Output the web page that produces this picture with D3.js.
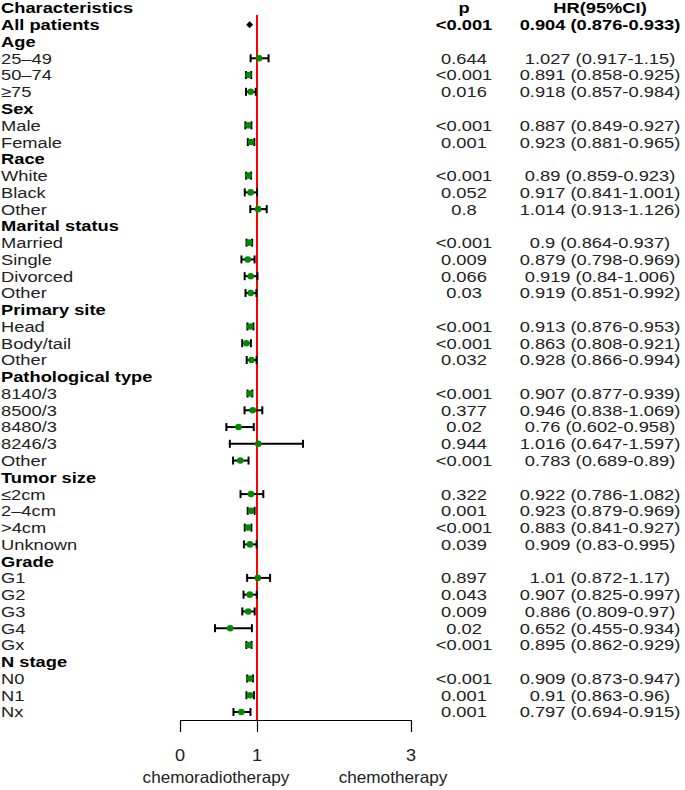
<!DOCTYPE html>
<html><head><meta charset="utf-8">
<script src="https://cdn.jsdelivr.net/npm/d3@7"></script>
<style>body{margin:0;background:#fff}svg{display:block}text{font-family:Arial,"Liberation Sans",sans-serif}</style>
</head><body><svg id="c" width="685" height="790"></svg>
<script>
const labels = ["Characteristics","All patients","Age","25–49","50–74","≥75","Sex","Male","Female","Race","White","Black","Other","Marital status","Married","Single","Divorced","Other","Primary site","Head","Body/tail","Other","Pathological type","8140/3","8500/3","8480/3","8246/3","Other","Tumor size","≤2cm","2–4cm",">4cm","Unknown","Grade","G1","G2","G3","G4","Gx","N stage","N0","N1","Nx"];
const boldRows = [0,1,2,6,9,13,18,22,28,33,39];
const hr    = [null,0.904,null,1.027,0.891,0.918,null,0.887,0.923,null,0.89,0.917,1.014,null,0.9,0.879,0.919,0.919,null,0.913,0.863,0.928,null,0.907,0.946,0.76,1.016,0.783,null,0.922,0.923,0.883,0.909,null,1.01,0.907,0.886,0.652,0.895,null,0.909,0.91,0.797];
const lower = [null,0.876,null,0.917,0.858,0.857,null,0.849,0.881,null,0.859,0.841,0.913,null,0.864,0.798,0.84,0.851,null,0.876,0.808,0.866,null,0.877,0.838,0.602,0.647,0.689,null,0.786,0.879,0.841,0.83,null,0.872,0.825,0.809,0.455,0.862,null,0.873,0.863,0.694];
const upper = [null,0.933,null,1.15,0.925,0.984,null,0.927,0.965,null,0.923,1.001,1.126,null,0.937,0.969,1.006,0.992,null,0.953,0.921,0.994,null,0.939,1.069,0.958,1.597,0.89,null,1.082,0.969,0.927,0.995,null,1.17,0.997,0.97,0.934,0.929,null,0.947,0.96,0.915];
const pvals = ["p","<0.001","","0.644","<0.001","0.016","","<0.001","0.001","","<0.001","0.052","0.8","","<0.001","0.009","0.066","0.03","","<0.001","<0.001","0.032","","<0.001","0.377","0.02","0.944","<0.001","","0.322","0.001","<0.001","0.039","","0.897","0.043","0.009","0.02","<0.001","","<0.001","0.001","0.001"];
const hrHeader = "HR(95%CI)";
const tickValues = [0,1,3];
const axisLabels = ["chemoradiotherapy","chemotherapy"];

const svg = d3.select("#c");
const x = d3.scaleLinear().domain([0,3]).range([180,411]);
const y = d3.scaleLinear().domain([0,42]).range([8,712]);
const txt = (g, px, py, s, anchor, bold, fs=15, sx=1.22) => g.append("text")
  .attr("transform",`translate(${px},${py}) scale(${sx},1)`)
  .attr("dy","0.36em").attr("text-anchor",anchor)
  .attr("font-size",fs).attr("font-weight",bold?"bold":"normal")
  .attr("fill",bold?"#000":"#222").text(s);

const tg = svg.append("g");
labels.forEach((l,i)=>{
  const b = boldRows.includes(i);
  txt(tg, 1, y(i), l, "start", b);
  if (pvals[i]) txt(tg, 464, y(i), pvals[i], "middle", i<=1);
  let h = i===0 ? hrHeader : (hr[i]!=null ? `${hr[i]} (${lower[i]}-${upper[i]})` : "");
  if (h) txt(tg, 600, y(i), h, "middle", i<=1);
});

// reference line
svg.append("line").attr("x1",x(1)).attr("x2",x(1)).attr("y1",15).attr("y2",720)
  .attr("stroke","#ff0000").attr("stroke-width",2);

// CI marks
const rows = d3.range(labels.length).filter(i=>hr[i]!=null && i!==1);
const mg = svg.append("g");
rows.forEach(i=>{
  const yy = y(i);
  mg.append("line").attr("x1",x(lower[i])).attr("x2",x(upper[i])).attr("y1",yy).attr("y2",yy).attr("stroke","#000").attr("stroke-width",2);
  [lower[i],upper[i]].forEach(v=>mg.append("line").attr("x1",x(v)).attr("x2",x(v)).attr("y1",yy-4).attr("y2",yy+4).attr("stroke","#000").attr("stroke-width",2));
  mg.append("circle").attr("cx",x(hr[i])).attr("cy",yy).attr("r",3.3).attr("fill","#008a00");
});
// summary diamond
{
  const yy=y(1), w=3.5, h=3.5;
  mg.append("path").attr("d",`M${x(hr[1])-w},${yy}L${x(hr[1])},${yy-h}L${x(hr[1])+w},${yy}L${x(hr[1])},${yy+h}Z`).attr("fill","#000");
}

// axis
const ax = svg.append("g").attr("transform","translate(0,720)")
  .call(d3.axisBottom(x).tickValues(tickValues).tickSize(12).tickSizeOuter(0).tickFormat(d3.format("d")));
ax.select(".domain").attr("stroke","#000").attr("stroke-width",1.2);
ax.selectAll(".tick line").attr("stroke","#000").attr("stroke-width",1.2);
ax.selectAll(".tick text").remove();
tickValues.forEach(v=>txt(svg, x(v), 755, String(v), "middle", false, 16.5, 1.1));
txt(svg, 216, 777, axisLabels[0], "middle", false, 16.5, 1.04);
txt(svg, 393, 777, axisLabels[1], "middle", false, 16.5, 1.04);
</script></body></html>
